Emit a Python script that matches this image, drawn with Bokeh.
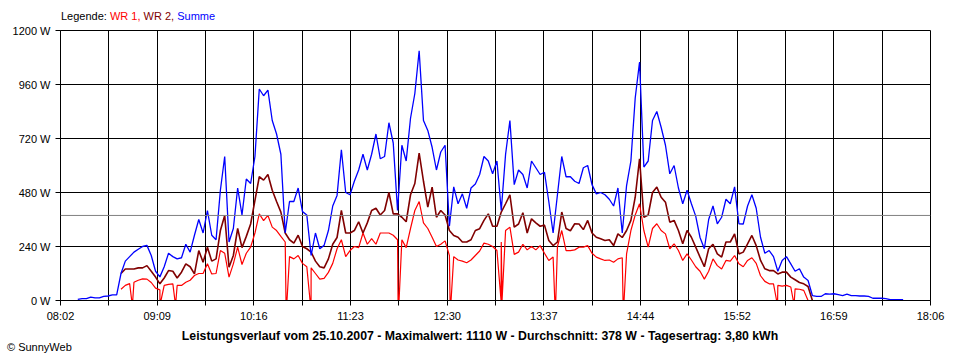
from bokeh.plotting import figure
from bokeh.models import FixedTicker, Span, Range1d, Div
from bokeh.layouts import column
from bokeh.embed import file_html
from bokeh.resources import INLINE

# ---- axis / labels ----
tick_labels = ["08:02", "09:09", "10:16", "11:23", "12:30", "13:37", "14:44", "15:52", "16:59", "18:06"]
x_start, x_end = 482, 1086          # minutes after midnight (08:02 .. 18:06)
y_ticks = [0, 240, 480, 720, 960, 1200]
y_labels = ["0 W", "240 W", "480 W", "720 W", "960 W", "1200 W"]

series_names = ["WR 1", "WR 2", "Summe"]
series_colors = ["#FF0000", "#800000", "#0000FF"]
title_text = "Leistungsverlauf vom 25.10.2007 - Maximalwert: 1110 W - Durchschnitt: 378 W - Tagesertrag: 3,80 kWh"
copyright_text = "\u00a9 SunnyWeb"
average_w = 378

# ---- series (W), sampled every 3 minutes ----
summe_start = 494
summe = [5, 8, 8, 15, 12, 12, 18, 20, 25, 25,
         120, 175, 195, 215, 228, 240, 245, 200, 130, 105,
         150, 210, 195, 185, 190, 250, 215, 290, 360, 300,
         400, 290, 270, 490, 640, 260, 320, 500, 380, 540,
         520, 640, 940, 910, 935, 800, 740, 650, 300, 440,
         440, 500, 395, 380, 200, 300, 230, 245, 311, 420,
         467, 670, 480, 470, 530, 580, 650, 580, 650, 740,
         630, 640, 790, 700, 400, 690, 620, 810, 920, 1110,
         800, 756, 681, 580, 660, 690, 330, 505, 430, 474,
         410, 500, 518, 560, 640, 620, 563, 620, 400, 650,
         800, 515, 580, 560, 500, 620, 590, 560, 570, 440,
         300, 470, 640, 550, 550, 530, 520, 590, 600, 515,
         474, 480, 470, 450, 420, 500, 300, 511, 620, 900,
         1060, 593, 620, 800, 840, 770, 690, 563, 600, 500,
         430, 490, 430, 375, 280, 230, 360, 420, 341, 370,
         450, 430, 505, 341, 340, 420, 470, 410, 281, 210,
         222, 195, 130, 178, 195, 163, 130, 141, 104, 89,
         22, 18, 18, 30, 28, 30, 26, 22, 28, 22,
         22, 20, 20, 18, 10, 10, 10, 8, 4, 4,
         4, 4]

wr_start = 524
wr2 = [120, 140, 140, 140, 145, 145, 155, 130, 104, 74,
       100, 133, 130, 100, 126, 163, 150, 118, 222, 170,
       237, 175, 185, 311, 378, 148, 200, 320, 235, 285,
       340, 445, 550, 535, 560, 490, 440, 393, 300, 270,
       255, 290, 240, 230, 215, 175, 150, 145, 185, 250,
       280, 400, 300, 300, 311, 350, 300, 345, 400, 410,
       380, 400, 480, 385, 385, 370, 350, 470, 520, 655,
       530, 415, 504, 370, 400, 380, 311, 289, 281, 260,
       260, 270, 311, 319, 356, 385, 330, 330, 393, 430,
       470, 326, 340, 390, 300, 363, 345, 330, 335, 267,
       244, 260, 393, 320, 310, 341, 340, 315, 356, 300,
       281, 274, 267, 270, 244, 296, 280, 311, 356, 459,
       630, 370, 380, 480, 504, 459, 437, 348, 356, 311,
       252, 311, 281, 237, 193, 150, 230, 250, 207, 193,
       260, 260, 296, 207, 215, 252, 289, 244, 178, 141,
       133, 133, 118, 126, 126, 104, 92, 80, 74, 62,
       0]

wr1 = [50, 67, 75, 81, 90, 96, 95, 80, 55, 47,
       67, 72, 74, 67, 67, 81, 90, 111, 120, 120,
       163, 118, 120, 222, 210, 104, 163, 237, 160, 210,
       237, 300, 385, 355, 378, 326, 311, 285, 260, 195,
       185, 200, 165, 150, 145, 120, 95, 98, 125, 165,
       230, 270, 195, 222, 240, 235, 300, 250, 275, 250,
       300, 300, 300, 290, 270, 270, 235, 320, 400, 440,
       345, 320, 281, 240, 250, 265, 200, 195, 180, 175,
       168, 180, 200, 220, 255, 250, 240, 222, 260, 311,
       326, 205, 215, 250, 225, 240, 225, 244, 210, 178,
       193, 240, 311, 222, 222, 225, 237, 237, 244, 210,
       193, 185, 178, 180, 170, 185, 190, 207, 311, 380,
       430, 311, 237, 320, 341, 311, 296, 230, 252, 222,
       178, 207, 180, 150, 130, 95, 130, 185, 155, 140,
       178, 175, 200, 163, 150, 178, 190, 165, 110, 85,
       74, 74, 67, 64, 67, 60, 52, 50, 45, 0]

# moments (minutes after midnight) where WR 1 briefly reported 0 W
wr1_drops = [531.8, 551.4, 561.8, 638.9, 655.6, 716.7, 752.8, 788.2, 825.5, 872.9, 979.5, 991.1]

step = 3


def times(start, n):
    return [start + step * i for i in range(n)]


def with_drops(t, v, drops, half=0.35):
    pts = list(zip(t, v))
    for d in drops:
        pts += [(d - half, 0), (d + half, 0)]
    pts.sort()
    return [a for a, _ in pts], [b for _, b in pts]


FONT = "Liberation Sans"
FONT_CSS = "'Liberation Sans', Arial, sans-serif"

p = figure(width=960, height=303, output_backend="svg", toolbar_location=None,
           x_range=Range1d(x_start, x_end), y_range=Range1d(0, 1200),
           min_border_left=60, min_border_right=30, min_border_top=8, min_border_bottom=25,
           margin=0)
p.background_fill_color = "white"
p.border_fill_color = "white"
p.outline_line_color = "black"
p.outline_line_width = 1
p.outline_line_alpha = 1

n_div = 2 * (len(tick_labels) - 1)
xt = [x_start + i * (x_end - x_start) / n_div for i in range(n_div + 1)]
p.xaxis.ticker = FixedTicker(ticks=xt, minor_ticks=[])
p.xaxis.major_label_overrides = {xt[i]: (tick_labels[i // 2] if i % 2 == 0 else "") for i in range(len(xt))}
p.yaxis.ticker = FixedTicker(ticks=y_ticks, minor_ticks=[])
p.yaxis.major_label_overrides = {y: l for y, l in zip(y_ticks, y_labels)}

for ax in (p.xaxis, p.yaxis):
    ax.axis_line_color = "black"
    ax.major_tick_line_color = "black"
    ax.major_tick_out = 5
    ax.major_tick_in = 0
    ax.minor_tick_out = 0
    ax.minor_tick_in = 0
    ax.major_label_text_font = FONT
    ax.major_label_text_font_size = "11px"
    ax.major_label_text_color = "black"
    ax.major_label_standoff = 5
p.xaxis.major_label_standoff = 4

p.xgrid.ticker = FixedTicker(ticks=xt, minor_ticks=[])
p.ygrid.ticker = FixedTicker(ticks=y_ticks, minor_ticks=[])
for g in (p.xgrid, p.ygrid):
    g.grid_line_color = "black"
    g.grid_line_alpha = 1
    g.grid_line_width = 1

t1, v1 = with_drops(times(wr_start, len(wr1)), wr1, wr1_drops)
p.line(t1, v1, line_color=series_colors[0], line_width=1.2)
p.line(times(wr_start, len(wr2)), wr2, line_color=series_colors[1], line_width=1.6)
p.line(times(summe_start, len(summe)), summe, line_color=series_colors[2], line_width=1.3)

p.add_layout(Span(location=average_w, dimension="width", line_color="#808080", line_width=1))

# legend line above the chart
legend_html = "<span style='color:#000000'>Legende: </span>" + "".join(
    "<span style='color:%s'>%s%s</span>" % (c, n, ", " if i < len(series_names) - 1 else "")
    for i, (n, c) in enumerate(zip(series_names, series_colors)))
top = Div(text="<div style=\"font-family:%s; font-size:11px; line-height:13px; padding:10px 0 0 61px; white-space:nowrap;\">%s</div>" % (FONT_CSS, legend_html),
          width=960, height=22, margin=0)

bottom_html = (
    "<div style=\"font-family:%s; width:960px; white-space:nowrap;\">"
    "<div style=\"text-align:center; font-weight:bold; font-size:12.3px; line-height:13px; padding-top:5px;\">%s</div>"
    "<div style=\"font-size:11px; line-height:11px; padding-left:7px; margin-top:-1px;\">%s</div>"
    "</div>" % (FONT_CSS, title_text, copyright_text))
bottom = Div(text=bottom_html, width=960, height=35, margin=0)

layout = column(top, p, bottom, spacing=0, margin=0)

open("out.html", "w").write(file_html(layout, INLINE))
